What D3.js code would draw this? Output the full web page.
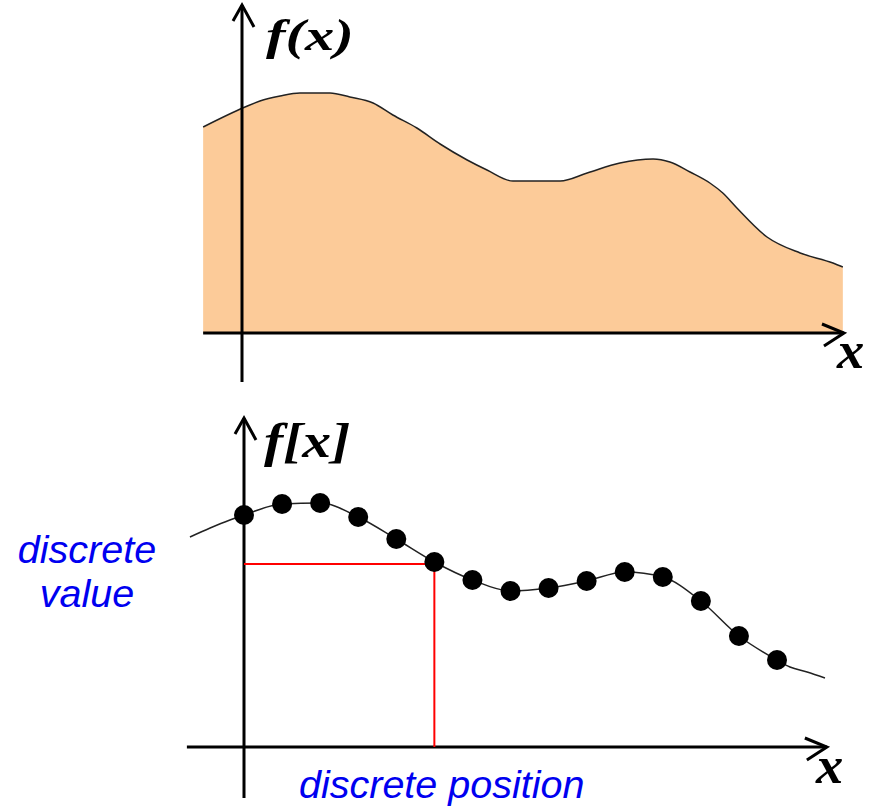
<!DOCTYPE html>
<html>
<head>
<meta charset="utf-8">
<script src="https://cdn.jsdelivr.net/npm/d3@7"></script>
<style>
  body { margin: 0; background: #fff; }
  svg { display: block; }
</style>
</head>
<body>
<svg id="chart"></svg>
<script>
// continuous signal f(x)
const contX = [-1.02, 0.08, 0.47, 1.0, 1.52, 2.31, 2.83, 3.44, 3.96, 4.59, 5.2, 5.91, 6.43, 7.11,
  8.35, 9.06, 9.92, 10.79, 11.23, 11.76, 12.28, 12.62, 12.99, 13.78, 14.65, 15.51, 15.77];
const contY = [8.24, 9.04, 9.28, 9.48, 9.6, 9.6, 9.44, 9.2, 8.72, 8.2, 7.56, 6.92, 6.52, 6.08,
  6.08, 6.4, 6.8, 6.96, 6.84, 6.44, 6.0, 5.6, 5.0, 3.84, 3.2, 2.8, 2.64];

// sampled signal f[x]
const sampleX = [0, 1, 2, 3, 4, 5, 6, 7, 8, 9, 10, 11, 12, 13, 14];
const sampleY = [9.28, 9.72, 9.76, 9.2, 8.32, 7.4, 6.68, 6.24, 6.36, 6.64, 7.0, 6.8, 5.84, 4.44, 3.48];

// thin curve drawn through the samples (with its two loose ends)
const curveX = [-1.42, -0.89, -0.37, 0, 1, 2, 3, 4, 5, 6, 7, 8, 9, 10, 11, 12, 13, 14, 14.34, 14.79, 15.26];
const curveY = [8.4, 8.76, 9.08, 9.28, 9.72, 9.76, 9.2, 8.32, 7.4, 6.68, 6.24, 6.36, 6.64, 7.0, 6.8,
  5.84, 4.44, 3.48, 3.2, 3.0, 2.76];

const highlight = 5; // sample picked out by the red guides

const width = 871;
const height = 807;
const svg = d3.select("#chart").attr("width", width).attr("height", height);

const serif = "'Liberation Serif', 'Times New Roman', serif";
const sans = "'Liberation Sans', Arial, sans-serif";
const blue = "#0000f0";

function drawAxes(g, x, y, xExt, yExt) {
  g.append("line")
    .attr("x1", x(xExt[0])).attr("x2", x(xExt[1]))
    .attr("y1", y(0)).attr("y2", y(0))
    .attr("stroke", "#000").attr("stroke-width", 3);
  g.append("line")
    .attr("x1", x(0)).attr("x2", x(0))
    .attr("y1", y(yExt[0])).attr("y2", y(yExt[1]))
    .attr("stroke", "#000").attr("stroke-width", 3);

  const tx = x(xExt[1]), ty = y(0);
  g.append("path")
    .attr("d", `M${tx - 22},${ty - 9} L${tx},${ty} L${tx - 20},${ty + 13}`)
    .attr("fill", "none").attr("stroke", "#000").attr("stroke-width", 3);
  const ux = x(0), uy = y(yExt[1]);
  g.append("path")
    .attr("d", `M${ux - 9},${uy + 16} L${ux},${uy} L${ux + 12},${uy + 22}`)
    .attr("fill", "none").attr("stroke", "#000").attr("stroke-width", 3);
}

// bold italic math label, stretched a little wider like the original
function mathLabel(g, x, y, size, stretch, txt) {
  g.append("text")
    .attr("transform", `translate(${x},${y}) scale(${stretch},1)`)
    .attr("font-family", serif).attr("font-weight", "bold").attr("font-style", "italic")
    .attr("font-size", size)
    .text(txt);
}

// ---------- top panel ----------
const xTop = d3.scaleLinear().domain([0, 14]).range([242, 242 + 14 * 38.1]);
const yTop = d3.scaleLinear().domain([0, 10]).range([333, 83]);
const topData = contX.map((d, i) => ({ x: d, y: contY[i] }));

const topG = svg.append("g");
topG.append("path")
  .datum(topData)
  .attr("fill", "#fccb99")
  .attr("d", d3.area().x(d => xTop(d.x)).y0(yTop(0)).y1(d => yTop(d.y)).curve(d3.curveMonotoneX));
topG.append("path")
  .datum(topData)
  .attr("fill", "none")
  .attr("stroke", "#222")
  .attr("stroke-width", 1.5)
  .attr("d", d3.line().x(d => xTop(d.x)).y(d => yTop(d.y)).curve(d3.curveMonotoneX));

drawAxes(topG, xTop, yTop, [-1.02, 15.8], [-1.96, 13.12]);

mathLabel(topG, 266, 50, 44, 1.33, "f(x)");
mathLabel(topG, 837, 368, 52, 1.05, "x");

// ---------- bottom panel ----------
const xBot = d3.scaleLinear().domain([0, 14]).range([244, 777]);
const yBot = d3.scaleLinear().domain([0, 10]).range([747, 497]);

const botG = svg.append("g");
const curveData = curveX.map((d, i) => ({ x: d, y: curveY[i] }));
const samples = sampleX.map((d, i) => ({ x: d, y: sampleY[i] }));

botG.append("path")
  .datum(curveData)
  .attr("fill", "none")
  .attr("stroke", "#222")
  .attr("stroke-width", 1.5)
  .attr("d", d3.line().x(d => xBot(d.x)).y(d => yBot(d.y)).curve(d3.curveMonotoneX));

drawAxes(botG, xBot, yBot, [-1.5, 15.31], [-2.04, 13.16]);

const h = samples[highlight];
botG.append("line")
  .attr("x1", xBot(0)).attr("x2", xBot(h.x))
  .attr("y1", yBot(h.y) + 2).attr("y2", yBot(h.y) + 2)
  .attr("stroke", "#ff0000").attr("stroke-width", 2);
botG.append("line")
  .attr("x1", xBot(h.x)).attr("x2", xBot(h.x))
  .attr("y1", yBot(h.y) + 2).attr("y2", yBot(0))
  .attr("stroke", "#ff0000").attr("stroke-width", 2);

botG.selectAll("circle")
  .data(samples)
  .join("circle")
  .attr("cx", d => xBot(d.x))
  .attr("cy", d => yBot(d.y))
  .attr("r", 10)
  .attr("fill", "#000");

mathLabel(botG, 264, 457, 48, 1.2, "f[x]");
mathLabel(botG, 816, 783, 52, 1.05, "x");

// blue annotations
const labels = svg.append("g")
  .attr("font-family", sans).attr("font-style", "italic")
  .attr("font-size", 39.5).attr("fill", blue);
labels.append("text").attr("x", 87).attr("y", 563).attr("text-anchor", "middle").text("discrete");
labels.append("text").attr("x", 87).attr("y", 607).attr("text-anchor", "middle").text("value");
labels.append("text").attr("x", 299).attr("y", 798).text("discrete position");
</script>
</body>
</html>
